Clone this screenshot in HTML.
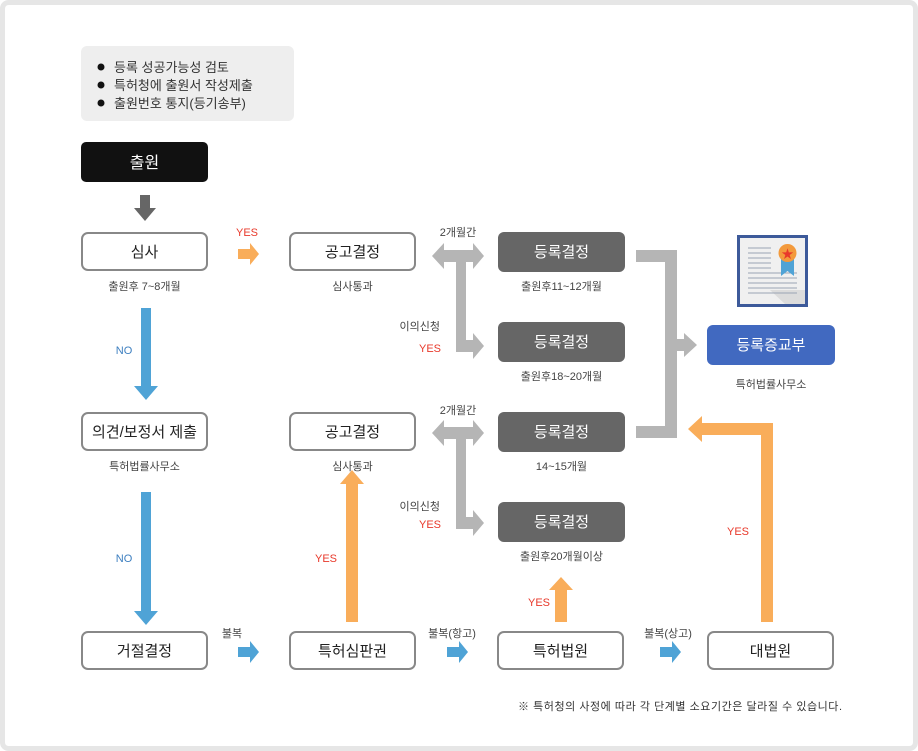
<!DOCTYPE html>
<html><head><meta charset="utf-8"><style>
html,body{margin:0;padding:0;background:#fff;}
svg{display:block;font-family:"Liberation Sans","Noto Sans CJK KR",sans-serif;}
</style></head><body>
<svg width="918" height="751" viewBox="0 0 918 751" xmlns="http://www.w3.org/2000/svg">
<rect x="2.5" y="2.5" width="913" height="746" rx="6" fill="#fff" stroke="#e6e6e6" stroke-width="5"/>
<rect x="81" y="46" width="213" height="75" rx="6" fill="#eeeeee"/>
<g font-size="13" fill="#333">
<circle cx="101" cy="67" r="3.5" fill="#111"/><text x="114" y="72">등록 성공가능성 검토</text>
<circle cx="101" cy="85" r="3.5" fill="#111"/><text x="114" y="90">특허청에 출원서 작성제출</text>
<circle cx="101" cy="103" r="3.5" fill="#111"/><text x="114" y="108">출원번호 통지(등기송부)</text>
</g>
<rect x="81" y="142" width="127" height="40" rx="5" fill="#111"/>
<text x="144.5" y="168" font-size="16" fill="#fff" text-anchor="middle">출원</text>
<polygon points="140,195 150,195 150,208 156,208 145,221 134,208 140,208" fill="#666"/>
<g fill="#fff" stroke="#888" stroke-width="2">
<rect x="82" y="233" width="125" height="37" rx="6"/>
<rect x="290" y="233" width="125" height="37" rx="6"/>
<rect x="82" y="413" width="125" height="37" rx="6"/>
<rect x="290" y="413" width="125" height="37" rx="6"/>
<rect x="82" y="632" width="125" height="37" rx="6"/>
<rect x="290" y="632" width="125" height="37" rx="6"/>
<rect x="498" y="632" width="125" height="37" rx="6"/>
<rect x="708" y="632" width="125" height="37" rx="6"/>
</g>
<g fill="#666">
<rect x="498" y="232" width="127" height="40" rx="6"/>
<rect x="498" y="322" width="127" height="40" rx="6"/>
<rect x="498" y="412" width="127" height="40" rx="6"/>
<rect x="498" y="502" width="127" height="40" rx="6"/>
</g>
<rect x="707" y="325" width="128" height="40" rx="6" fill="#4169c0"/>
<g font-size="15" text-anchor="middle" fill="#222">
<text x="144.5" y="257">심사</text>
<text x="352.5" y="257">공고결정</text>
<text x="144.5" y="437">의견/보정서 제출</text>
<text x="352.5" y="437">공고결정</text>
<text x="144.5" y="656">거절결정</text>
<text x="352.5" y="656">특허심판권</text>
<text x="560.5" y="656">특허법원</text>
<text x="770.5" y="656">대법원</text>
<g fill="#fff">
<text x="561.5" y="257">등록결정</text>
<text x="561.5" y="347">등록결정</text>
<text x="561.5" y="437">등록결정</text>
<text x="561.5" y="527">등록결정</text>
<text x="771" y="350">등록증교부</text>
</g>
</g>
<g font-size="11" text-anchor="middle" fill="#444">
<text x="144.5" y="290">출원후 7~8개월</text>
<text x="352.5" y="290">심사통과</text>
<text x="561.5" y="290">출원후11~12개월</text>
<text x="561.5" y="380">출원후18~20개월</text>
<text x="771" y="388">특허법률사무소</text>
<text x="144.5" y="470">특허법률사무소</text>
<text x="352.5" y="470">심사통과</text>
<text x="561.5" y="470">14~15개월</text>
<text x="561.5" y="560">출원후20개월이상</text>
<text x="458" y="236">2개월간</text>
<text x="458" y="414">2개월간</text>
<text x="232" y="637">불복</text>
<text x="452" y="637">불복(항고)</text>
<text x="668" y="637">불복(상고)</text>
<text x="440" y="330" text-anchor="end">이의신청</text>
<text x="440" y="510" text-anchor="end">이의신청</text>
<text x="518" y="710" text-anchor="start" fill="#333" textLength="324" lengthAdjust="spacing">※ 특허청의 사정에 따라 각 단계별 소요기간은 달라질 수 있습니다.</text>
</g>
<g font-size="11" fill="#e8392b" text-anchor="middle">
<text x="247" y="236">YES</text>
<text x="430" y="352">YES</text>
<text x="430" y="528">YES</text>
<text x="326" y="562">YES</text>
<text x="539" y="606">YES</text>
<text x="738" y="535">YES</text>
</g>
<g font-size="11" fill="#3d7fc0" text-anchor="middle">
<text x="124" y="354">NO</text>
<text x="124" y="562">NO</text>
</g>
<g fill="#4fa3d6">
<polygon points="141,308 151,308 151,386 158,386 146,400 134,386 141,386"/>
<polygon points="141,492 151,492 151,611 158,611 146,625 134,611 141,611"/>
<polygon points="238,647 250,647 250,641 259,652 250,663 250,657 238,657"/>
<polygon points="447,647 459,647 459,641 468,652 459,663 459,657 447,657"/>
<polygon points="660,647 672,647 672,641 681,652 672,663 672,657 660,657"/>
</g>
<g fill="#f9ad5a">
<polygon points="238,249 250,249 250,243 259,254 250,265 250,259 238,259"/>
<polygon points="346,622 358,622 358,484 364,484 352,470 340,484 346,484"/>
<polygon points="555,622 567,622 567,590 573,590 561,577 549,590 555,590"/>
<polygon points="761,622 773,622 773,423 702,423 702,416 688,429 702,442 702,435 761,435"/>
</g>
<g fill="#b5b5b5">
<polygon points="444,250 473,250 473,243 484,256 473,269 473,262 466,262 466,340 473,340 473,333 484,346 473,359 473,352 456,352 456,262 444,262 444,269 432,256 444,243"/>
<polygon points="444,427 473,427 473,420 484,433 473,446 473,439 466,439 466,517 473,517 473,510 484,523 473,536 473,529 456,529 456,439 444,439 444,446 432,433 444,420"/>
<polygon points="636,250 677,250 677,339 684,339 684,333 697,345 684,357 684,351 677,351 677,438 636,438 636,426 665,426 665,262 636,262"/>
</g>
<rect x="737" y="235" width="71" height="72" fill="#3d5a9a"/>
<rect x="740" y="238" width="65" height="66" fill="#f0f0f0"/>
<polygon points="805,290 805,304 785,304 770,290" fill="#dcdcdc"/>
<g stroke="#9aa3b3" stroke-width="1">
<line x1="748" y1="248" x2="771" y2="248"/><line x1="748" y1="253" x2="771" y2="253"/>
<line x1="748" y1="258" x2="771" y2="258"/><line x1="748" y1="263" x2="771" y2="263"/>
<line x1="748" y1="268" x2="771" y2="268"/><line x1="748" y1="273" x2="797" y2="273"/>
<line x1="748" y1="278" x2="797" y2="278"/><line x1="748" y1="283" x2="797" y2="283"/>
<line x1="748" y1="288" x2="797" y2="288"/><line x1="748" y1="293" x2="797" y2="293"/>
</g>
<polygon points="781,258 794,258 794,276 787.5,271 781,276" fill="#4fa3d6"/>
<circle cx="787.5" cy="253" r="9" fill="#f39a3c"/>
<text x="787.5" y="258" font-size="12" fill="#e8392b" text-anchor="middle">★</text>
</svg>
</body></html>
